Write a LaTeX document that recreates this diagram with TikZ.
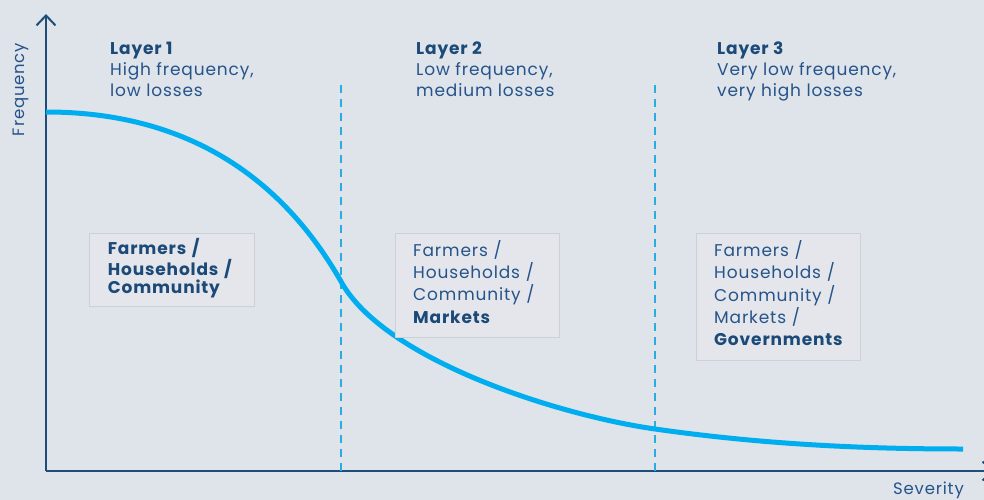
\documentclass[tikz,border=0pt]{standalone}
\usepackage{fontspec}
\setmainfont{Poppins}[LetterSpace=5]
\usetikzlibrary{arrows.meta}
\definecolor{bgc}{HTML}{DFE3EA}
\definecolor{axisc}{HTML}{1E4D78}
\definecolor{textc}{HTML}{25548A}
\definecolor{boldc}{HTML}{1B4A78}
\definecolor{curvec}{HTML}{00AEEF}
\definecolor{dashc}{HTML}{2AACE2}
\definecolor{boxfill}{HTML}{E4E6EB}
\definecolor{boxline}{HTML}{CDD0D6}
\tikzset{
  axisline/.style={draw=axisc, line width=2pt},
  curveline/.style={draw=curvec, line width=5pt, line cap=butt},
  divider/.style={draw=dashc, line width=1.6pt, dash pattern=on 8pt off 6pt},
  layerlabel/.style={text=textc, font=\fontsize{17}{21}\selectfont, align=left, inner sep=0pt, anchor=north west},
  groupbox/.style={fill=boxfill, draw=boxline, line width=1pt, text=textc, align=left, inner xsep=18pt, inner ysep=0pt, anchor=north west},
  axislabel/.style={text=textc, font=\fontsize{16.5}{19}\selectfont, inner sep=0pt},
}
\newcommand{\bt}[1]{{\bfseries\color{boldc}#1}}
\newcommand{\lift}{\rule[-8pt]{0pt}{8pt}}
\begin{document}
\begin{tikzpicture}[x=1pt,y=-1pt]
\fill[bgc] (0,0) rectangle (984,500);
\useasboundingbox (0,0) rectangle (984,500);
\clip (0,0) rectangle (984,500);
% axes
\coordinate (O) at (46,471);
\coordinate (ytip) at (46,14);
\coordinate (xtip) at (994,471);
\draw[axisline, -{Straight Barb[length=10pt,width=19pt]}] (O) -- (ytip);
\draw[axisline, -{Straight Barb[length=10pt,width=19pt]}] (O) -- (xtip);
\node[axislabel, rotate=90, anchor=base] (freq) at (24,89.5) {Frequency};
\node[axislabel, anchor=base east] (sev) at (964,494) {Severity};
% dividers
\coordinate (d1t) at (341,85); \coordinate (d1b) at (341,471);
\coordinate (d2t) at (655,85); \coordinate (d2b) at (655,471);
\draw[divider] (d1t) -- (d1b);
\draw[divider] (d2t) -- (d2b);
% curve
\draw[curveline] (46,112) .. controls (200,112) and (290,190) .. (343,285)
  .. controls (390,362) and (560,415.5) .. (655,429)
  .. controls (760,444) and (860,449) .. (963,449);
% layer labels
\node[layerlabel] (l1) at (110,41.5) {\bt{Layer 1}\\High frequency,\\low losses};
\node[layerlabel] (l2) at (416,41.5) {\bt{Layer 2}\\Low frequency,\\medium losses};
\node[layerlabel] (l3) at (717,41.5) {\bt{Layer 3}\\Very low frequency,\\very high losses};
% boxes
\node[groupbox, font=\fontsize{17}{18.7}\selectfont, text width=128.4pt, minimum width=164.4pt, minimum height=72.7pt] (b1) at (89.3,233.3)
  {\bt{Farmers /}\\\bt{Households /}\\\bt{Community}\lift};
\node[groupbox, font=\fontsize{17}{22.3}\selectfont, text width=128.6pt, minimum width=164.6pt, minimum height=104pt] (b2) at (394.7,233.3)
  {Farmers /\\Households /\\Community /\\\bt{Markets}\lift};
\node[groupbox, font=\fontsize{17}{22.3}\selectfont, text width=128.3pt, minimum width=164.3pt, minimum height=126.7pt] (b3) at (695.7,233.3)
  {Farmers /\\Households /\\Community /\\Markets /\\\bt{Governments}\lift};
\end{tikzpicture}
\end{document}
